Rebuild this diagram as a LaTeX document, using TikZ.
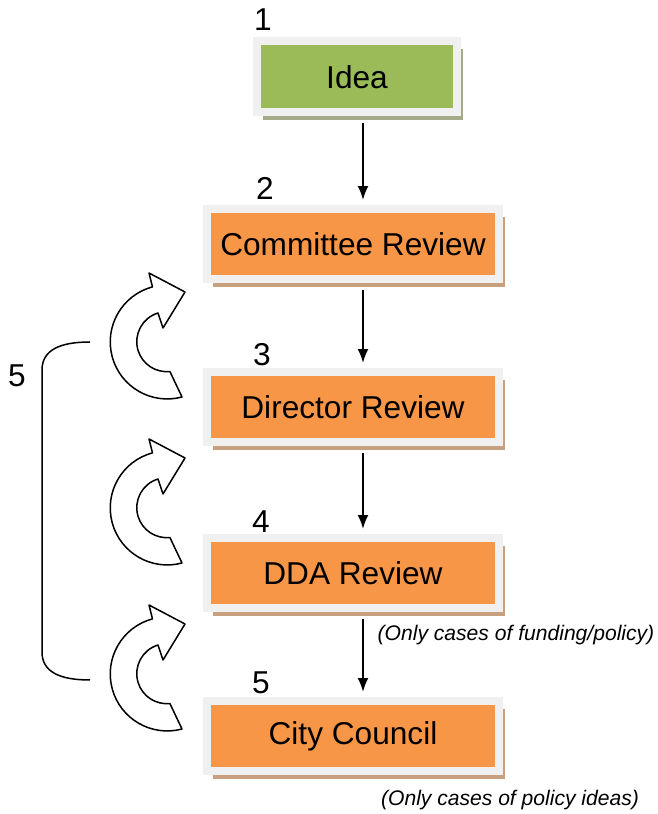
\documentclass[tikz,border=0pt]{standalone}
\usepackage{fontspec}
\setmainfont{Liberation Sans}
\usetikzlibrary{arrows.meta,shadows}

\definecolor{stageOrange}{RGB}{247,150,70}
\definecolor{ideaGreen}{RGB}{155,187,89}
\definecolor{frameGray}{RGB}{240,240,240}
\definecolor{shadowTan}{RGB}{200,160,125}
\definecolor{shadowOlive}{RGB}{165,170,138}

\begin{document}
\begin{tikzpicture}[x=0.02cm,y=0.02cm,
  stage/.style={draw=frameGray, line width=0.16cm, fill=stageOrange, inner sep=0pt,
    minimum width=5.84cm, minimum height=1.4cm, font=\fontsize{18}{20}\selectfont,
    drop shadow={shadow xshift=0.12cm, shadow yshift=-0.16cm, fill=shadowTan, opacity=1}},
  idea/.style={stage, fill=ideaGreen, minimum width=4cm, minimum height=1.42cm,
    drop shadow={shadow xshift=0.12cm, shadow yshift=-0.16cm, fill=shadowOlive, opacity=1}},
  steplabel/.style={font=\fontsize{18}{20}\selectfont, inner sep=0pt},
  note/.style={font=\fontsize{12}{14}\selectfont\itshape, inner sep=0pt},
  flow/.style={-{Latex[length=0.28cm,width=0.22cm]}, line width=0.04cm,
    shorten <=0.14cm, shorten >=0.1cm},
  loopback/.style={draw=black, fill=white, line width=0.03cm, line join=round},
  bracket/.style={draw=black, line width=0.03cm}]

\useasboundingbox (0,0) rectangle (658,814);

% stages
\node[idea]  (idea)      at (357,737) {Idea};
\node[stage] (committee) at (353,570) {Committee Review};
\node[stage] (director)  at (353,407) {Director Review};
\node[stage] (dda)       at (353,241) {DDA Review};
\node[stage] (council)   at (353,78)  {City Council};

% step numbers
\node[steplabel] (n1) at (263,794) {1};
\node[steplabel] (n2) at (265,626) {2};
\node[steplabel] (n3) at (262,459) {3};
\node[steplabel] (n4) at (261,292) {4};
\node[steplabel] (n5) at (261,131) {5};
\node[steplabel] (loopnum) at (17,438) {5};

\node[note] (fundnote)   at (516,179) {(Only cases of funding/policy)};
\node[note] (policynote) at (510,14)  {(Only cases of policy ideas)};

% flow down the stages
\coordinate (spine) at (363,0);
\draw[flow] (idea.south -| spine) -- (committee.north -| spine);
\draw[flow] (committee.south -| spine) -- (director.north -| spine);
\draw[flow] (director.south -| spine) -- (dda.north -| spine);
\draw[flow] (dda.south -| spine) -- (council.north -| spine);

% curved loop-back arrows
\foreach \dy in {0,166,332} {
  \begin{scope}[shift={(167,472-\dy)}]
    \draw[loopback] (15,-55) arc[start angle=-75, end angle=-255, radius=57]
      -- (-18,69) -- (18,50) -- (-4,14) -- (-9,29)
      arc[start angle=107, end angle=276, radius=30] -- cycle;
  \end{scope}
}

% bracket for step 5
\draw[bracket] (90,472) .. controls (60,472) and (42,464) .. (42,444)
  -- (42,162) .. controls (42,142) and (60,134) .. (90,134);

\end{tikzpicture}
\end{document}
